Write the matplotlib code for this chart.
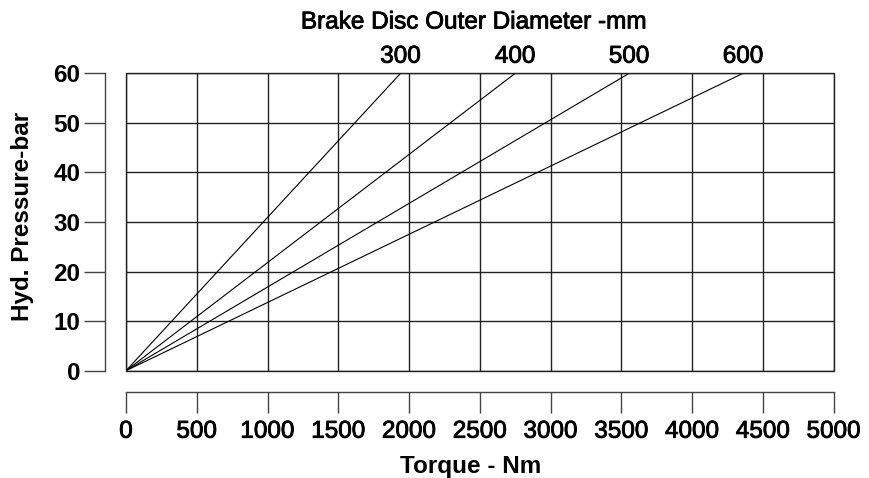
import matplotlib
matplotlib.use("Agg")
import matplotlib.pyplot as plt
from matplotlib.patches import Rectangle
import matplotlib.patheffects as pe

plt.rcParams['font.family'] = ['Liberation Sans', 'DejaVu Sans']

# Data
diameters = ["300", "400", "500", "600"]          # brake disc outer diameter, mm
torque_at_60bar = [1940, 2750, 3555, 4360]        # Nm reached at 60 bar
pressure_range = [0, 60]                          # bar
x_ticks = [0, 500, 1000, 1500, 2000, 2500, 3000, 3500, 4000, 4500, 5000]
y_ticks = [0, 10, 20, 30, 40, 50, 60]

FS = 17.5
medium = [pe.withStroke(linewidth=0.6, foreground='black')]

fig = plt.figure(figsize=(8.7, 4.78), dpi=100)
ax = fig.add_axes([126/870, 1-370.7/478, (833.7-126)/870, (370.7-73.3)/478])

for d, t in zip(diameters, torque_at_60bar):
    ax.plot([0, t], pressure_range, color='black', lw=0.8, solid_capstyle='butt')
    ax.text(t, 63.35, d, ha='center', va='center', fontsize=FS, color='black',
            path_effects=medium)

ax.set_xlim(0, 5000)
ax.set_ylim(0, 60)
ax.set_xticks(x_ticks)
ax.set_yticks(y_ticks)
ax.set_xticklabels([str(v) for v in x_ticks])
ax.set_yticklabels([str(v) for v in y_ticks])

ax.grid(True, color='#222222', lw=1.0)
ax.add_patch(Rectangle((0, 0), 1, 1, transform=ax.transAxes, fill=False,
                       edgecolor='#222222', lw=1.0, clip_on=False, zorder=3))

for s in ['top', 'right']:
    ax.spines[s].set_visible(False)
for s in ['left', 'bottom']:
    ax.spines[s].set_position(('outward', 15))
    ax.spines[s].set_color('#444444')
    ax.spines[s].set_linewidth(1.0)

ax.tick_params(axis='both', direction='out', length=15, width=1.0, color='#444444',
               labelsize=FS)
ax.tick_params(axis='y', pad=3)
ax.tick_params(axis='x', pad=6)
for lab in ax.get_yticklabels():
    lab.set_fontweight('bold')
for lab in ax.get_xticklabels():
    lab.set_path_effects(medium)

fig.text(473/870, 1-22.5/478, "Brake Disc Outer Diameter -mm", ha='center', va='center',
         fontsize=FS, path_effects=medium)
fig.text(471/870, 1-466/478, "Torque - Nm", ha='center', va='center',
         fontsize=FS, fontweight='bold')
fig.text(22.5/870, 1-216/478, "Hyd. Pressure-bar", ha='center', va='center',
         rotation=90, fontsize=FS, fontweight='bold')

fig.savefig("out.png", dpi=100)
